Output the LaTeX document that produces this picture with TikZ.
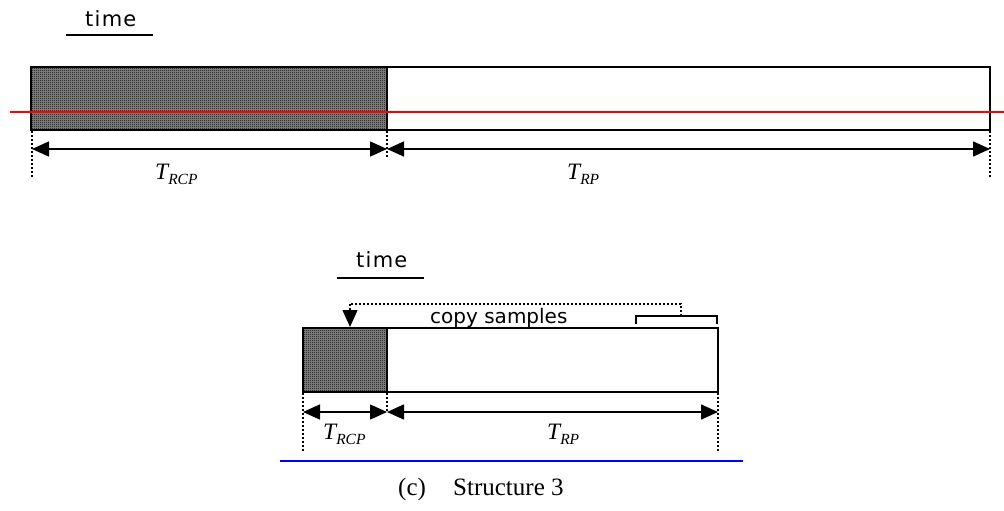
\documentclass[tikz,border=0pt]{standalone}
\usepackage{fontspec}
\setmainfont{Liberation Serif}
\newfontfamily\gul{DejaVu Sans}
\newfontfamily\gulsp[LetterSpace=6]{DejaVu Sans}
\usetikzlibrary{arrows.meta,patterns}
\pgfdeclarepatternformonly{finecheck}{\pgfpointorigin}{\pgfqpoint{2pt}{2pt}}{\pgfqpoint{2pt}{2pt}}{%
  \pgfpathrectangle{\pgfpointorigin}{\pgfqpoint{1pt}{1pt}}%
  \pgfpathrectangle{\pgfqpoint{1pt}{1pt}}{\pgfqpoint{1pt}{1pt}}%
  \pgfusepath{fill}}
\newcommand{\tsym}[1]{{\fontsize{23.5}{23.5}\selectfont\itshape T}\raisebox{-5pt}{\fontsize{15.5}{15.5}\selectfont\itshape #1}}
\begin{document}
\begin{tikzpicture}[x=1pt,y=-1pt,
  boxline/.style={line width=1.4pt},
  dimarrow/.style={line width=1.5pt,{Triangle[length=17pt,width=15pt]}-{Triangle[length=17pt,width=15pt]}},
  guide/.style={line width=1.3pt,dash pattern=on 2pt off 2pt},
  lbl/.style={inner sep=0pt,anchor=base west},
  sanslbl/.style={inner sep=0pt,anchor=base west,font=\gulsp\fontsize{21}{24}\selectfont},
  uline/.style={line width=1.4pt}]
\useasboundingbox (0,0) rectangle (1004,511);
% ---------- top diagram ----------
\node[sanslbl] (time1) at (85,27) {time};
\coordinate (u1a) at (66,35); \coordinate (u1b) at (153,35);
\draw[uline] (u1a) -- (u1b);
\coordinate (A1) at (31,67); \coordinate (A2) at (387,130);
\coordinate (B1) at (387,67); \coordinate (B2) at (990,130);
\fill[black!45] (A1) rectangle (A2);
\fill[pattern=finecheck] (A1) rectangle (A2);
\draw[boxline] (A1) rectangle (A2);
\draw[boxline] (B1) rectangle (B2);
\coordinate (r1) at (10,112); \coordinate (r2) at (1004,112);
\draw[red,line width=1.6pt] (r1) -- (r2);
\coordinate (d1a) at (32,131); \coordinate (d1b) at (32,178);
\coordinate (d2a) at (387,131); \coordinate (d2b) at (387,157);
\coordinate (d3a) at (990,131); \coordinate (d3b) at (990,178);
\draw[guide] (d1a) -- (d1b);
\draw[guide] (d2a) -- (d2b);
\draw[guide] (d3a) -- (d3b);
\coordinate (a1l) at (32,149); \coordinate (a1m) at (387,149); \coordinate (a1r) at (990,149);
\draw[dimarrow] (a1l) -- (a1m);
\draw[dimarrow] (a1m) -- (a1r);
\node[lbl] (trcp1) at (155,179) {\tsym{RCP}};
\node[lbl] (trp1) at (567,179) {\tsym{RP}};
% ---------- bottom diagram ----------
\node[sanslbl] (time2) at (356,267) {time};
\coordinate (u2a) at (337,278); \coordinate (u2b) at (424,278);
\draw[uline] (u2a) -- (u2b);
\coordinate (C1) at (303,328); \coordinate (C2) at (387,392);
\coordinate (D1) at (387,328); \coordinate (D2) at (718,392);
\fill[black!45] (C1) rectangle (C2);
\fill[pattern=finecheck] (C1) rectangle (C2);
\draw[boxline] (C1) rectangle (C2);
\draw[boxline] (D1) rectangle (D2);
% copy samples bracket
\coordinate (cs1) at (350,304); \coordinate (cs2) at (681,304);
\coordinate (cs3) at (681,316); \coordinate (cs4) at (350,327);
\coordinate (bk1) at (636,324); \coordinate (bk2) at (636,316);
\coordinate (bk3) at (717,316); \coordinate (bk4) at (717,324);
\draw[guide] (cs3) -- (cs2) -- (cs1);
\draw[guide,-{Triangle[length=17pt,width=15pt]}] (cs1) -- (cs4);
\draw[line width=1.4pt] (bk1) -- (bk2) -- (bk3) -- (bk4);
\node[sanslbl,font=\gul\fontsize{20}{22}\selectfont] (copy) at (430,323) {copy samples};
\coordinate (e1a) at (303,393); \coordinate (e1b) at (303,452);
\coordinate (e2a) at (387,393); \coordinate (e2b) at (387,412);
\coordinate (e3a) at (718,393); \coordinate (e3b) at (718,452);
\draw[guide] (e1a) -- (e1b);
\draw[guide] (e2a) -- (e2b);
\draw[guide] (e3a) -- (e3b);
\coordinate (a2l) at (303,412); \coordinate (a2m) at (387,412); \coordinate (a2r) at (718,412);
\draw[dimarrow] (a2l) -- (a2m);
\draw[dimarrow] (a2m) -- (a2r);
\node[lbl] (trcp2) at (323,439) {\tsym{RCP}};
\node[lbl] (trp2) at (547,439) {\tsym{RP}};
\coordinate (bl1) at (280,461); \coordinate (bl2) at (743,461);
\draw[blue,line width=1.6pt] (bl1) -- (bl2);
\node[lbl,font=\fontsize{25}{28}\selectfont] (capc) at (398,495) {(c)};
\node[lbl,font=\fontsize{25}{28}\selectfont] (caps) at (453,495) {Structure 3};
\end{tikzpicture}
\end{document}
